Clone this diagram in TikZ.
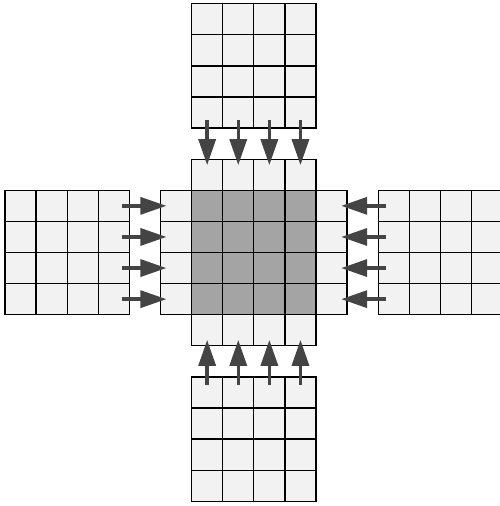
\documentclass[tikz,border=0pt]{standalone}
\usetikzlibrary{arrows.meta}
\usepackage{xcolor}
\definecolor{cellgray}{HTML}{F2F2F2}
\definecolor{coregray}{HTML}{A4A4A4}
\definecolor{feedgray}{HTML}{444444}

\begin{document}
\begin{tikzpicture}[x=31.1pt, y=-31.1pt,
  cell/.style={fill=cellgray, draw=black, line width=1.3pt},
  corecell/.style={fill=coregray, draw=black, line width=1.3pt},
  feed/.style={feedgray, line width=3.4pt,
    -{Triangle[length=26pt, width=17pt]}}]

%% ------------------------------------------------------------------
%% page frame: one unit = one cell, rows counted downwards
%% ------------------------------------------------------------------
\clip (-0.161,-0.119) rectangle (15.916,16.151);

%% the four neighbouring 4x4 blocks (top, left, right, bottom)
\foreach \bx/\by in {6/0, 0/6, 12/6, 6/12}{
  \foreach \i in {0,...,3}{
    \foreach \j in {0,...,3}{
      \draw[cell] (\bx+\i,\by+\j) rectangle ++(1,1);
    }
  }
}

%% halo ring of the central block (no corners)
\foreach \k in {6,...,9}{
  \draw[cell] (\k,5) rectangle ++(1,1);
  \draw[cell] (\k,10) rectangle ++(1,1);
  \draw[cell] (5,\k) rectangle ++(1,1);
  \draw[cell] (10,\k) rectangle ++(1,1);
}

%% the 4x4 core
\foreach \i in {6,...,9}{
  \foreach \j in {6,...,9}{
    \draw[corecell] (\i,\j) rectangle ++(1,1);
  }
}

%% halo exchange: each neighbour's edge row feeds the ring
\foreach \k in {6,...,9}{
  \draw[feed] (\k+0.5,3.74) -- (\k+0.5,5.19);   % from top
  \draw[feed] (\k+0.5,12.26) -- (\k+0.5,10.81); % from bottom
  \draw[feed] (3.75,\k+0.5) -- (5.19,\k+0.5);   % from left
  \draw[feed] (12.25,\k+0.5) -- (10.81,\k+0.5); % from right
}

\end{tikzpicture}
\end{document}
